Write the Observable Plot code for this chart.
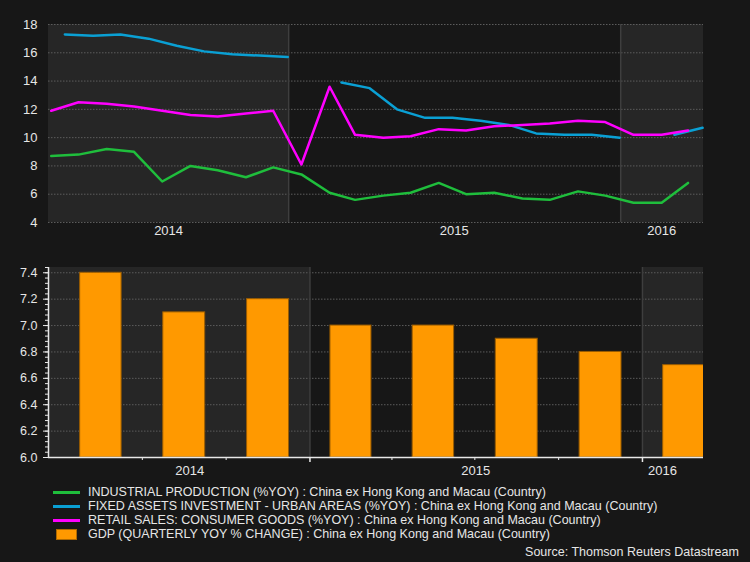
<!DOCTYPE html>
<html>
<head>
<meta charset="utf-8">
<script src="https://cdn.jsdelivr.net/npm/d3@7"></script>
<script src="https://cdn.jsdelivr.net/npm/@observablehq/plot@0.6"></script>
<style>
  html, body { margin: 0; padding: 0; background: #171717; }
  #root { width: 750px; height: 562px; position: relative; background: #171717; overflow: hidden;
          font-family: "Liberation Sans Narrow", "Liberation Sans", Arial, sans-serif; color: #e6e6e6; }
  #top, #bottom { position: absolute; left: 0; width: 750px; }
  #top { top: 0; }
  #bottom { top: 240px; }
  #legend { position: absolute; left: 53px; top: 485px; font-size: 13.5px; line-height: 14px; }
  .row { display: flex; align-items: center; height: 14px; white-space: nowrap; }
  .row span { display: inline-block; transform: scaleX(0.927); transform-origin: left center; }
  .sw { width: 35px; height: 14px; position: relative; flex: none; }
  .ln { position: absolute; left: 0; top: 6px; width: 27px; height: 2.5px; }
  .bx { position: absolute; left: 3px; top: 2px; width: 19px; height: 9px; background: #ff9900; border: 1px solid #b06a00; }
  #source { position: absolute; right: 11px; top: 544px; font-size: 13.5px; line-height: 16px;
            transform: scaleX(0.926); transform-origin: right center; }
</style>
</head>
<body>
<div id="root">
  <div id="top"></div>
  <div id="bottom"></div>
  <div id="legend"></div>
  <div id="source">Source: Thomson Reuters Datastream</div>
</div>
<script>
// ---------- data ----------
const months = ["2014-04","2014-05","2014-06","2014-07","2014-08","2014-09","2014-10","2014-11","2014-12",
                "2015-01","2015-02","2015-03","2015-04","2015-05","2015-06","2015-07","2015-08","2015-09",
                "2015-10","2015-11","2015-12","2016-01","2016-02","2016-03"];
const industrialProduction = [8.7, 8.8, 9.2, 9.0, 6.9, 8.0, 7.7, 7.2, 7.9,
                              7.4, 6.1, 5.6, 5.9, 6.1, 6.8, 6.0, 6.1, 5.7, 5.6, 6.2, 5.9,
                              5.4, 5.4, 6.8];
const fixedAssets = [17.3, 17.2, 17.3, 17.0, 16.5, 16.1, 15.9, 15.8, 15.7,
                     NaN, 13.9, 13.5, 12.0, 11.4, 11.4, 11.2, 10.9, 10.3, 10.2, 10.2, 10.0,
                     NaN, 10.2, 10.7];
const retailSales = [11.9, 12.5, 12.4, 12.2, 11.9, 11.6, 11.5, 11.7, 11.9,
                     8.1, 13.6, 10.2, 10.0, 10.1, 10.6, 10.5, 10.8, 10.9, 11.0, 11.2, 11.1,
                     10.2, 10.2, 10.5];

const quarterStarts = ["2014-04-01","2014-07-01","2014-10-01","2015-01-01","2015-04-01","2015-07-01","2015-10-01","2016-01-01"];
const gdp = [7.4, 7.1, 7.2, 7.0, 7.0, 6.9, 6.8, 6.7];

const yearStarts = ["2014-01-01","2015-01-01","2016-01-01","2017-01-01"];
const shadedYears = [2014, 2016];
const yearBoundaries = ["2015-01-01","2016-01-01"];

const topYTicks = [4, 6, 8, 10, 12, 14, 16, 18];
const bottomYTicks = [6.0, 6.2, 6.4, 6.6, 6.8, 7.0, 7.2, 7.4];
const topYearLabels = ["2014-08-22","2015-07-02","2016-02-15"];
const bottomYearLabels = ["2014-08-22","2015-07-02","2016-01-23"];
const bottomQuarterTicks = ["2014-07-01","2014-10-01","2015-04-01","2015-07-01","2015-10-01"];

const topDomain = ["2014-04-12","2016-04-01"];
const bottomDomain = ["2014-03-20","2016-03-08"];

const colors = { ip: "#1fbe3c", fai: "#0aa0d4", rs: "#ff00ff", gdp: "#ff9900" };
const legendItems = [
  { label: "INDUSTRIAL PRODUCTION (%YOY) : China ex Hong Kong and Macau (Country)", color: colors.ip, kind: "line" },
  { label: "FIXED ASSETS INVESTMENT - URBAN AREAS (%YOY) : China ex Hong Kong and Macau (Country)", color: colors.fai, kind: "line" },
  { label: "RETAIL SALES: CONSUMER GOODS (%YOY) : China ex Hong Kong and Macau (Country)", color: colors.rs, kind: "line" },
  { label: "GDP (QUARTERLY YOY % CHANGE) : China ex Hong Kong and Macau (Country)", color: colors.gdp, kind: "box" }
];

// ---------- derived tables ----------
const D = s => new Date(s + (s.length === 7 ? "-01" : "") + "T00:00:00Z");
const midMonth = m => d3.utcDay.offset(D(m), 14);
const endMonth = m => d3.utcDay.offset(d3.utcMonth.offset(D(m), 1), -1);

const ipData = months.map((m, i) => ({ date: midMonth(m), value: industrialProduction[i] }));
const rsData = months.map((m, i) => ({ date: midMonth(m), value: retailSales[i] }));
const faiData = months.map((m, i) => ({ date: endMonth(m), value: fixedAssets[i] }));

const bands = shadedYears.map(y => {
  const i = yearStarts.findIndex(s => +s.slice(0, 4) === y);
  return { start: D(yearStarts[i]), end: D(yearStarts[i + 1]) };
});
const bounds = yearBoundaries.map(D);

const gdpData = quarterStarts.map((q, i) => {
  const s = D(q), e = d3.utcMonth.offset(s, 3), len = e - s;
  return { x1: new Date(+s + len * 0.25), x2: new Date(+e - len * 0.25), value: gdp[i] };
});

const font = '"Liberation Sans Narrow", "Liberation Sans", Arial, sans-serif';
const gridStyle = { stroke: "#5c5c5c", strokeWidth: 1, strokeDasharray: "1.5,1.5" };

// ---------- top chart ----------
const topChart = Plot.plot({
  width: 750, height: 240,
  marginLeft: 48, marginRight: 47, marginTop: 24, marginBottom: 18,
  style: { background: "transparent", color: "#e6e6e6", fontFamily: font, fontSize: "13px" },
  x: { type: "utc", domain: topDomain.map(D) },
  y: { domain: [4, 18] },
  marks: [
    Plot.rect(bands, { x1: "start", x2: "end", fill: "#262626", clip: true }),
    Plot.ruleY(topYTicks, gridStyle),
    Plot.ruleX(bounds, { stroke: "#3e3e3e", strokeWidth: 1.5 }),
    Plot.line(ipData, { x: "date", y: "value", stroke: colors.ip, strokeWidth: 2.5 }),
    Plot.line(faiData, { x: "date", y: "value", stroke: colors.fai, strokeWidth: 2.5 }),
    Plot.line(rsData, { x: "date", y: "value", stroke: colors.rs, strokeWidth: 2.5 }),
    Plot.axisY(topYTicks, { tickSize: 0, tickPadding: 11, label: null, fontSize: 13 }),
    Plot.axisX(topYearLabels.map(D), { tickSize: 0, tickPadding: 3, label: null, fontSize: 13,
                                       tickFormat: d => String(d.getUTCFullYear()) })
  ]
});
document.getElementById("top").appendChild(topChart);

// ---------- bottom chart ----------
const bottomChart = Plot.plot({
  width: 750, height: 240,
  marginLeft: 48, marginRight: 47, marginTop: 27, marginBottom: 23,
  style: { background: "transparent", color: "#e6e6e6", fontFamily: font, fontSize: "12.5px" },
  x: { type: "utc", domain: bottomDomain.map(D) },
  y: { domain: [6, 7.44] },
  marks: [
    Plot.rect(bands, { x1: "start", x2: "end", fill: "#262626", clip: true }),
    Plot.ruleY(bottomYTicks, gridStyle),
    Plot.ruleX(bounds, { stroke: "#3e3e3e", strokeWidth: 1.5 }),
    Plot.rectY(gdpData, { x1: "x1", x2: "x2", y1: 6, y2: "value", fill: colors.gdp,
                          stroke: "#9a5c00", strokeWidth: 1, clip: true }),
    Plot.ruleX([D(bottomDomain[0])], { stroke: "#e8e8e8", strokeWidth: 1.5 }),
    Plot.ruleY([6], { stroke: "#e8e8e8", strokeWidth: 1.5 }),
    Plot.axisY(d3.range(6, 7.441, 0.04), { tickSize: 3, text: null, label: null, stroke: "#e8e8e8" }),
    Plot.axisY(bottomYTicks, { tickSize: 5, tickPadding: 6, label: null, fontSize: 12.5,
                               tickFormat: d3.format(".1f"), stroke: "#e8e8e8" }),
    Plot.axisX(bottomQuarterTicks.map(D), { tickSize: 3, text: null, label: null, stroke: "#e8e8e8" }),
    Plot.axisX(bounds, { tickSize: 5, text: null, label: null, stroke: "#e8e8e8", strokeWidth: 1.5 }),
    Plot.axisX(bottomYearLabels.map(D), { tickSize: 0, tickPadding: 8, label: null, fontSize: 13,
                                          tickFormat: d => String(d.getUTCFullYear()) })
  ]
});
document.getElementById("bottom").appendChild(bottomChart);

// ---------- legend ----------
const legend = document.getElementById("legend");
for (const it of legendItems) {
  const row = document.createElement("div");
  row.className = "row";
  const sw = document.createElement("div");
  sw.className = "sw";
  const mark = document.createElement("div");
  mark.className = it.kind === "line" ? "ln" : "bx";
  if (it.kind === "line") mark.style.background = it.color;
  sw.appendChild(mark);
  const t = document.createElement("span");
  t.textContent = it.label;
  row.appendChild(sw);
  row.appendChild(t);
  legend.appendChild(row);
}
</script>
</body>
</html>
